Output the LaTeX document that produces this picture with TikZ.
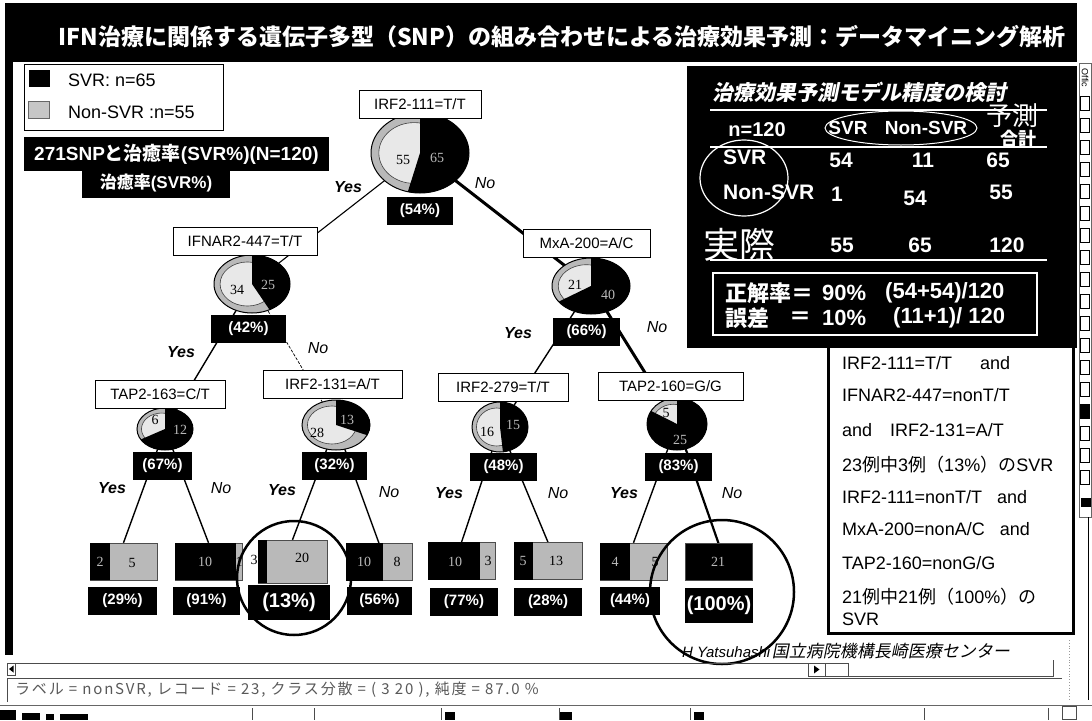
\documentclass[tikz,border=0pt]{standalone}
\usepackage{fontspec}
\setmainfont{Liberation Sans}
\newfontfamily\jp{Noto Sans CJK JP}
\newfontfamily\jpsl[FakeSlant=0.2]{Noto Sans CJK JP}
\newfontfamily\jpwide[LetterSpace=12]{Noto Sans CJK JP}
\newfontfamily\sernum{Liberation Serif}
\usetikzlibrary{calc}
\pgfdeclarelayer{paper}
\pgfdeclarelayer{bg}
\pgfsetlayers{paper,bg,main}
\newcommand\fsz[1]{\fontsize{#1}{#1}\selectfont}
\newcommand\mypie[5]{%
  \begin{scope}[shift={(#1,#2)},yscale=-1]
    \fill[gray!55] (0,0) ellipse [x radius=#3, y radius=#4];
    \fill[gray!18] (-0.12*#3,0) ellipse [x radius=0.72*#3, y radius=0.76*#4];
    \draw[black!75, line width=0.6] (-0.12*#3,0) ellipse [x radius=0.72*#3, y radius=0.76*#4];
    \fill[black] (0,0) -- (90:#3 and #4) arc [start angle=90, end angle=#5, x radius=#3, y radius=#4] -- cycle;
    \draw[black, line width=1] (0,0) ellipse [x radius=#3, y radius=#4];
  \end{scope}}
\tikzset{
  tbox/.style={draw=black, line width=1, fill=white, inner sep=0pt, minimum height=28, font=\fsz{15}},
  pct/.style={fill=black, text=white, inner sep=0pt, minimum height=28, minimum width=66, font=\bfseries\fsz{15}},
  pctbig/.style={pct, minimum height=35, minimum width=82, font=\bfseries\fsz{20}},
  yeslab/.style={font=\bfseries\itshape\fsz{16}, inner sep=0pt},
  nolab/.style={font=\itshape\fsz{16}, inner sep=0pt},
  conn/.style={line width=1.4},
  connthick/.style={line width=3},
  connthin/.style={line width=0.7, dash pattern=on 3pt off 1.5pt},
  leafbox/.style={draw=black!70, line width=0.5, fill=gray!55, inner sep=0pt, minimum width=67, minimum height=37},
  pnum/.style={font=\sernum\fsz{14}, inner sep=0pt},
  pnumd/.style={pnum, text=gray!55},
  wt/.style={text=white, font=\bfseries\fsz{21}, inner sep=0pt},
  rline/.style={anchor=west, font=\fsz{18}, inner sep=0pt},
  blackbox/.style={fill=black, text=white, font=\bfseries\fsz{19}, inner sep=0pt},
  legtxt/.style={anchor=west, font=\fsz{18}, inner sep=0pt},
  hand/.style={line width=2.5, black},
}
\begin{document}
\begin{tikzpicture}[x=1pt,y=-1pt]
\useasboundingbox (0,0) rectangle (1092,720);
\begin{pgfonlayer}{paper}
\fill[white] (0,0) rectangle (1092,720);
\end{pgfonlayer}
% title band and left border
\node[fill=black, minimum width=1072, minimum height=59, inner sep=0] (band) at (541,32.5) {};
\node[text=white, font=\jp\bfseries\fsz{23}, inner sep=0] (title) at (562,37) {IFN治療に関係する遺伝子多型（SNP）の組み合わせによる治療効果予測：データマイニング解析};
\fill[black] (5,62) rectangle (13,655);
% legend
\node[draw=black, line width=1, minimum width=199, minimum height=66, inner sep=0] (legend) at (123.5,97) {};
\node[fill=black, minimum width=21, minimum height=17, inner sep=0] (sw1) at (39,78.5) {};
\node[fill=gray!45, draw=black!60, minimum width=21, minimum height=17, inner sep=0] (sw2) at (39,109.5) {};
\node[legtxt] (lt1) at (68,80) {SVR: n=65};
\node[legtxt] (lt2) at (68,112) {Non-SVR :n=55};
\node[blackbox, minimum width=305, minimum height=34] (b271) at (176.5,154) {271SNP{\jp と治癒率}(SVR\%)(N=120)};
\node[blackbox, minimum width=148, minimum height=30, font=\bfseries\fsz{17}] (bcure) at (156,183) {{\jp 治癒率}(SVR\%)};
% pie centres
\coordinate (p0) at (420,153);
\coordinate (p1) at (252,284);
\coordinate (p2) at (591,286);
\coordinate (p3) at (165,429);
\coordinate (p4) at (336,425);
\coordinate (p5) at (500,427);
\coordinate (p6) at (677,424);
% pies
\mypie{420}{153}{49}{40}{-104.4}
\mypie{252}{284}{38}{29}{-62.5}
\mypie{591}{286}{39}{28}{-146}
\mypie{165}{429}{28}{21}{-150}
\mypie{336}{425}{34}{25}{-24}
\mypie{500}{427}{28}{25}{-84}
\mypie{677}{424}{30}{26}{-210}
\node[pnum] (pl0a) at (403,160) {55}; \node[pnumd] (pl0b) at (437,158) {65};
\node[pnum] (pl1a) at (237,290) {34}; \node[pnumd] (pl1b) at (268,285) {25};
\node[pnum] (pl2a) at (575,285) {21}; \node[pnumd] (pl2b) at (608,295) {40};
\node[pnum] (pl3a) at (155,420) {6};  \node[pnumd] (pl3b) at (180,430) {12};
\node[pnum] (pl4a) at (317,433) {28}; \node[pnumd] (pl4b) at (347,420) {13};
\node[pnum] (pl5a) at (487,432) {16}; \node[pnumd] (pl5b) at (513,425) {15};
\node[pnum] (pl6a) at (666,413) {5};  \node[pnumd] (pl6b) at (680,440) {25};
% question boxes
\node[tbox, minimum width=122] (n0) at (420,104) {IRF2-111=T/T};
\node[tbox, minimum width=144] (n1) at (245,241) {IFNAR2-447=T/T};
\node[tbox, minimum width=127] (n2) at (586.5,243) {MxA-200=A/C};
\node[tbox, minimum width=130] (n3) at (160,394) {TAP2-163=C/T};
\node[tbox, minimum width=139] (n4) at (332.5,384) {IRF2-131=A/T};
\node[tbox, minimum width=130] (n5) at (503,387) {IRF2-279=T/T};
\node[tbox, minimum width=145] (n6) at (670.5,386) {TAP2-160=G/G};
% percentage boxes
\node[pct] (r0) at (420,211) {(54\%)};
\node[pct, minimum width=75] (r1) at (248.5,329) {(42\%)};
\node[pct, minimum width=67] (r2) at (586.5,332) {(66\%)};
\node[pct, minimum width=59] (r3) at (162.5,466) {(67\%)};
\node[pct, minimum width=65] (r4) at (334.5,466) {(32\%)};
\node[pct, minimum width=67] (r5) at (503.5,467) {(48\%)};
\node[pct, minimum width=67] (r6) at (678.5,467) {(83\%)};
% leaves
\node[leafbox] (l1) at (123.5,561.5) {};
\node[leafbox] (l2) at (208.5,561.5) {};
\node[leafbox, minimum width=69, minimum height=43] (l3) at (292.5,561.5) {};
\node[leafbox, minimum width=66] (l4) at (379,562) {};
\node[leafbox] (l5) at (461.5,561) {};
\node[leafbox, minimum width=68] (l6) at (548,561) {};
\node[leafbox] (l7) at (633.5,561.5) {};
\node[leafbox, fill=black] (l8) at (718.5,562) {};
\fill[black] (l1.north west) rectangle (110,580);
\fill[black] (l2.north west) rectangle (236,580);
\fill[black] (l3.north west) rectangle (267,583);
\fill[black] (l4.north west) rectangle (383,580.5);
\fill[black] (l5.north west) rectangle (480,579.5);
\fill[black] (l6.north west) rectangle (533,579.5);
\fill[black] (l7.north west) rectangle (630,580);
\node[pnumd] (ll1a) at (100,562) {2}; \node[pnum] (ll1b) at (132,563) {5};
\node[pnumd] (ll2a) at (205,562) {10}; \node[pnum] (ll2b) at (239,562) {1};
\node[pnum] (ll3a) at (254,560) {3}; \node[pnum] (ll3b) at (302,558) {20};
\node[pnumd] (ll4a) at (364,562) {10}; \node[pnum] (ll4b) at (397,562) {8};
\node[pnumd] (ll5a) at (455,562) {10}; \node[pnum] (ll5b) at (488,561) {3};
\node[pnumd] (ll6a) at (523,561) {5}; \node[pnum] (ll6b) at (556,561) {13};
\node[pnumd] (ll7a) at (615,562) {4}; \node[pnum] (ll7b) at (655,562) {5};
\node[pnumd] (ll8a) at (718,562) {21};
\node[pct, minimum width=69] (q1) at (122.5,601) {(29\%)};
\node[pct, minimum width=67] (q2) at (206.5,601) {(91\%)};
\node[pctbig] (q3) at (289,602.5) {(13\%)};
\node[pct, minimum width=65] (q4) at (379.5,601) {(56\%)};
\node[pct, minimum width=68] (q5) at (464,601.5) {(77\%)};
\node[pct, minimum width=68] (q6) at (548,601.5) {(28\%)};
\node[pct, minimum width=60] (q7) at (630,600.5) {(44\%)};
\node[pctbig, minimum width=68] (q8) at (719,605) {(100\%)};
% connectors
\begin{pgfonlayer}{bg}
\draw[line width=1.1] (p0) -- (p1);
\draw[connthick] (p0) -- (p2);
\draw[conn] (p1) -- (p3);
\draw[connthin] (p1) -- (p4);
\draw[conn] (p2) -- (p5);
\draw[connthick] (p2) -- (p6);
\draw[conn] (p3) -- (l1.north);
\draw[conn] (p3) -- (l2.north);
\draw[conn] (p4) -- (l3.north);
\draw[conn] (p4) -- (l4.north);
\draw[conn] (p5) -- (l5.north);
\draw[conn] (p5) -- (l6.north);
\draw[conn] (p6) -- (l7.north);
\draw[line width=2.2] (p6) -- (l8.north);
\end{pgfonlayer}
% yes / no labels
\node[yeslab] (y0) at (348,187) {Yes}; \node[nolab] (o0) at (485,183) {No};
\node[yeslab] (y1) at (181,352) {Yes}; \node[nolab] (o1) at (318,348) {No};
\node[yeslab] (y2) at (518,333) {Yes}; \node[nolab] (o2) at (657,327) {No};
\node[yeslab] (y3) at (112,488) {Yes}; \node[nolab] (o3) at (221,488) {No};
\node[yeslab] (y4) at (282,490) {Yes}; \node[nolab] (o4) at (389,492) {No};
\node[yeslab] (y5) at (449,493) {Yes}; \node[nolab] (o5) at (558,493) {No};
\node[yeslab] (y6) at (624,493) {Yes}; \node[nolab] (o6) at (732,493) {No};
% hand-drawn circles
\draw[hand] (294,578) circle [radius=57];
\draw[hand] (722,592) circle [radius=72];
% right panel
\node[fill=black, minimum width=390, minimum height=280, inner sep=0] (panel) at (882,206) {};
\node[anchor=west, text=white, font=\jpsl\bfseries\fsz{21}, inner sep=0] (ptitle) at (712,92) {治療効果予測モデル精度の検討};
\draw[white, line width=1.5] (710,110) -- (1047,110);
\draw[white, line width=1.5] (710,147) -- (1047,147);
\draw[white, line width=1.5] (710,260) -- (1047,260);
\node[text=white, font=\jp\fsz{26}, inner sep=0] (yosoku) at (1012,116) {予測};
\node[wt, font=\bfseries\fsz{20}] (h0) at (757,130) {n=120};
\node[wt, font=\bfseries\fsz{19}] (h1) at (848,128) {SVR};
\node[wt, font=\bfseries\fsz{19}] (h2) at (926,128) {Non-SVR};
\node[wt, font=\jp\bfseries\fsz{18}] (h3) at (1018,139) {合計};
\draw[white, line width=1] (901,128) ellipse [x radius=76, y radius=17];
\node[wt, anchor=west] (rs) at (723,157) {SVR};
\node[wt] (c11) at (841,160) {54};
\node[wt] (c12) at (923,160) {11};
\node[wt] (c13) at (998,160) {65};
\node[wt, anchor=west] (rn) at (723,192) {Non-SVR};
\node[wt] (c21) at (837,194) {1};
\node[wt] (c22) at (915,198) {54};
\node[wt] (c23) at (1001,192) {55};
\draw[white, line width=1.2] (744,178) ellipse [x radius=44, y radius=38];
\node[text=white, font=\jp\fsz{36}, anchor=west, inner sep=0] (rj) at (703,245) {実際};
\node[wt] (c31) at (842,245) {55};
\node[wt] (c32) at (920,245) {65};
\node[wt] (c33) at (1007,245) {120};
\node[draw=white, line width=1.5, minimum width=324, minimum height=62, inner sep=0] (acc) at (875,304) {};
\node[wt, anchor=west, font=\jp\bfseries\fsz{22}] (a1) at (725,293) {正解率＝};
\node[wt, anchor=west, font=\bfseries\fsz{22}] (a2) at (822,293) {90\%};
\node[wt, anchor=west, font=\bfseries\fsz{22}] (a3) at (885,293) {(54+54)/120};
\node[wt, anchor=west, font=\jp\bfseries\fsz{22}] (e1) at (725,318) {誤差};
\node[wt, font=\jp\bfseries\fsz{22}] (e0) at (800,318) {＝};
\node[wt, anchor=west, font=\bfseries\fsz{22}] (e2) at (822,318) {10\%};
\node[wt, anchor=west, font=\bfseries\fsz{22}] (e3) at (893,318) {(11+1)/ 120};
% explanation box
\node[draw=black, line width=3, fill=white, minimum width=245, minimum height=287, inner sep=0] (expl) at (950.5,489.5) {};
\fill[black] (687,344) rectangle (1077,348);
\node[rline] (t1) at (842,363) {IRF2-111=T/T\quad\ \ and};
\node[rline] (t2) at (842,395) {IFNAR2-447=nonT/T};
\node[rline] (t3) at (842,430) {and\quad IRF2-131=A/T};
\node[rline] (t4) at (842,465) {23{\jp 例中}3{\jp 例（}13\%{\jp ）の}SVR};
\node[rline] (t5) at (842,497) {IRF2-111=nonT/T\ \ \ and};
\node[rline] (t6) at (842,529) {MxA-200=nonA/C\ \ \ and};
\node[rline] (t7) at (842,563) {TAP2-160=nonG/G};
\node[rline] (t8) at (842,597) {21{\jp 例中}21{\jp 例（}100\%{\jp ）の}};
\node[rline] (t9) at (842,619) {SVR};
% credit
\node[anchor=west, inner sep=0] (credit) at (682,651) {{\itshape\fsz{15}H Yatsuhashi}\,{\jpsl\fsz{17}国立病院機構長崎医療センター}};
% right toolbar
\draw[black!60, line width=0.6] (1079,63) rectangle (1091,517);
\node[rotate=-90, font=\fsz{9}, inner sep=0] (offic) at (1085,78) {Offic};
\foreach \yy in {96,118,140,162,184,206,228,250,272,294,316,338,360,382,404,426,448,470} {
  \draw[black, line width=0.8] (1080.5,\yy) rectangle (1089.5,\yy+14);
}
\fill[black] (1080.5,404) rectangle (1089.5,418);
\fill[black] (1080.5,498) rectangle (1091,507);
\draw[black, line width=0.8] (1088,517) -- (1088,700);
% scroll bar row
\draw[black!70, line width=0.6] (7,663) -- (808,663);
\node[draw=black!70, line width=0.6, minimum width=8, minimum height=12, inner sep=0] (sl) at (11,669) {};
\fill[black] (13.5,665.5) -- (9,669) -- (13.5,672.5) -- cycle;
\node[draw=black!70, line width=0.6, minimum width=17, minimum height=13, inner sep=0] (sr) at (816.5,669.5) {};
\fill[black] (814,665.5) -- (819.5,669.5) -- (814,673.5) -- cycle;
\draw[black!70, line width=0.6] (825,663) rectangle (848,676);
\draw[black!70, line width=0.6] (848,676) -- (1053,676) -- (1053,660);
\draw[black!40, dotted, line width=0.8] (1069,640) -- (1069,700);
% status bar
\draw[black!70, line width=0.8] (7,702) -- (7,678) -- (1062,678);
\node[anchor=west, font=\jpwide\fsz{15}, text=black!65, inner sep=0] (status) at (15,690) {ラベル = nonSVR, レコード = 23, クラス分散 = ( 3 20 ), 純度 = 87.0 \%};
% bottom toolbar
\draw[black!60, line width=0.6] (0,705) -- (1092,705);
\fill[black] (0,710) rectangle (16,720);
\fill[black] (22,713) rectangle (40,720);
\fill[black] (46,714) rectangle (54,720);
\fill[black] (60,714) rectangle (88,720);
\foreach \xx in {252,314,441,559,690,924,1048} { \draw[black!70, line width=0.8] (\xx,708) -- (\xx,720); }
\fill[black] (445,712) rectangle (455,720);
\fill[black] (560,712) rectangle (572,720);
\fill[black] (694,712) rectangle (704,720);
\draw[black!70, line width=0.8] (1062,706) rectangle (1076,719);
\end{tikzpicture}
\end{document}
